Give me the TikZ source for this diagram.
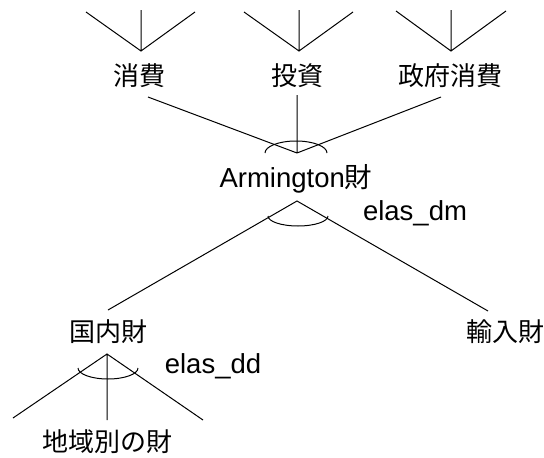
\documentclass[tikz,border=0pt]{standalone}
\usepackage{fontspec}
\setmainfont{Liberation Sans}
\newfontfamily\jp{Noto Sans CJK JP}
\tikzset{
  lbl/.style={inner sep=0pt, font=\fontsize{26}{30}\selectfont\jp},
  lat/.style={inner sep=0pt, font=\fontsize{27.5}{32}\selectfont},
  ln/.style={line width=1pt, black},
}
\begin{document}
\begin{tikzpicture}[x=1pt,y=-1pt]
\useasboundingbox (0,0) rectangle (544,458);
% top fans
\coordinate (p1) at (141,51);
\coordinate (p1a) at (86,12); \coordinate (p1b) at (141,10); \coordinate (p1c) at (195,12);
\coordinate (p2) at (299,51);
\coordinate (p2a) at (244,12); \coordinate (p2b) at (299,10); \coordinate (p2c) at (353,12);
\coordinate (p3) at (451,51);
\coordinate (p3a) at (396,11); \coordinate (p3b) at (451,10); \coordinate (p3c) at (506,11);
\draw[ln] (p1a) -- (p1) -- (p1c) (p1b) -- (p1);
\draw[ln] (p2a) -- (p2) -- (p2c) (p2b) -- (p2);
\draw[ln] (p3a) -- (p3) -- (p3c) (p3b) -- (p3);
% labels
\node[lbl] (shohi) at (139,76) {消費};
\node[lbl] (toshi) at (297,76) {投資};
\node[lbl] (seifu) at (450,76) {政府消費};
\coordinate (s1) at (148,97);
\coordinate (s2) at (297,95);
\coordinate (s3) at (441,97);
\coordinate (A1) at (297,153);
\draw[ln] (s1) -- (A1) (s2) -- (A1) (s3) -- (A1);
\draw[ln] (265,153) arc[start angle=180, end angle=0, x radius=31, y radius=-12];
% Armington
\node[lat, anchor=base] (arm) at (296,187) {Armington{\jp 財}};
\coordinate (A2) at (297,201);
\coordinate (d1) at (108,310);
\coordinate (d2) at (488,311);
\draw[ln] (d1) -- (A2) -- (d2);
\draw[ln] (268,216) arc[start angle=180, end angle=360, x radius=30, y radius=-10];
\node[lat] (edm) at (415,213) {elas\_dm};
% lower
\node[lbl] (koku) at (108,332) {国内財};
\node[lbl] (yunyu) at (505,332) {輸入財};
\coordinate (B) at (107,354);
\coordinate (b1) at (13,418); \coordinate (b2) at (107,420); \coordinate (b3) at (203,420);
\draw[ln] (b1) -- (B) -- (b3) (B) -- (b2);
\draw[ln] (78,368) arc[start angle=180, end angle=360, x radius=30, y radius=-11];
\node[lat] (edd) at (213,366) {elas\_dd};
\node[lbl] (chiiki) at (107,442) {地域別の財};
\end{tikzpicture}
\end{document}
